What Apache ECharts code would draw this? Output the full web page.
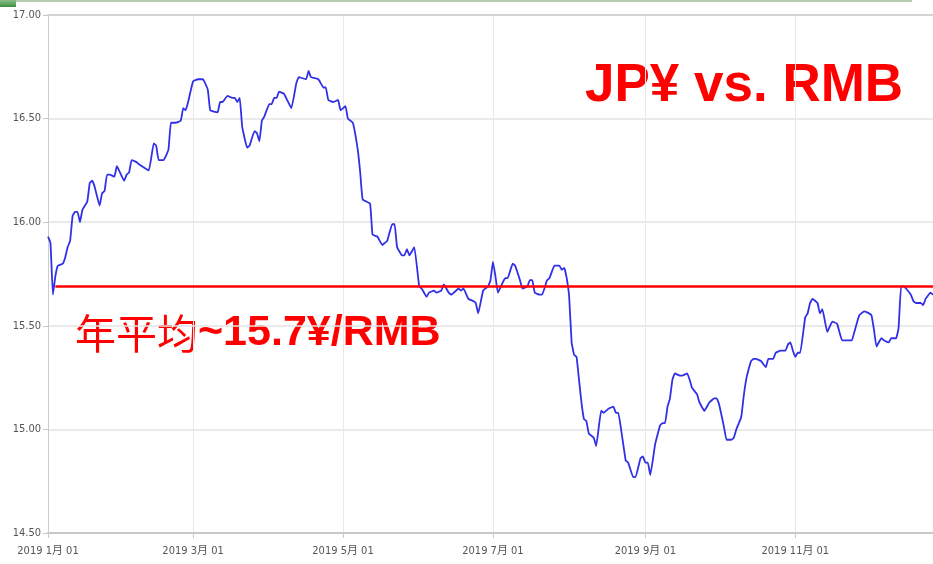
<!DOCTYPE html>
<html>
<head>
<meta charset="utf-8">
<script src="https://cdn.jsdelivr.net/npm/echarts@6/dist/echarts.min.js"></script>
<style>
html,body{margin:0;padding:0;background:#fff;}
#chart{width:933px;height:564px;}
</style>
</head>
<body>
<div id="chart"></div>
<script>
// 日期偏移（自2019-01-01起的天数）
var days = [0,1,2,3,4,6,7,8,9,10,11,12,13,14,15,16,17,18,19,21,22,23,24,25,27,28,31,32,33,34,36,37,41,43,44,45,47,49,50,52,54,55,56,57,59,61,63,65,66,69,70,71,73,75,76,77,78,79,81,82,84,85,86,87,88,90,91,92,93,94,96,99,101,102,105,106,107,110,112,113,114,116,118,119,121,122,124,126,127,128,131,132,134,136,137,138,140,141,142,144,145,146,147,149,151,152,154,155,157,158,160,161,163,164,166,167,168,169,171,173,174,175,177,179,180,181,182,183,185,186,187,189,190,192,193,195,196,197,198,200,201,203,204,206,208,209,210,211,212,213,214,215,216,217,218,219,220,222,223,225,226,228,230,231,232,233,235,236,238,239,241,242,243,244,245,247,249,250,251,252,253,254,255,257,258,260,261,262,264,265,267,269,271,272,273,275,276,278,279,280,282,283,284,285,286,287,288,290,292,293,295,296,298,300,301,302,303,304,305,306,308,309,310,311,313,314,315,317,319,321,323,325,327,328,330,332,334,335,336,337,339,340,342,343,345,346,347,348,349,351,352,353,355,356,357,359,360];
// 日元兑人民币（100日元）
var rates = [15.93,15.90,15.65,15.74,15.79,15.80,15.83,15.88,15.91,16.03,16.05,16.05,16.00,16.06,16.08,16.10,16.19,16.20,16.17,16.08,16.14,16.15,16.23,16.23,16.22,16.27,16.20,16.23,16.24,16.30,16.29,16.28,16.25,16.38,16.37,16.30,16.30,16.35,16.48,16.48,16.49,16.55,16.54,16.58,16.68,16.69,16.69,16.64,16.54,16.53,16.58,16.58,16.61,16.60,16.60,16.58,16.60,16.46,16.36,16.37,16.44,16.43,16.39,16.49,16.51,16.57,16.57,16.60,16.60,16.63,16.62,16.55,16.67,16.70,16.69,16.73,16.70,16.69,16.65,16.65,16.59,16.58,16.59,16.54,16.56,16.50,16.48,16.35,16.24,16.11,16.09,15.94,15.93,15.89,15.90,15.91,15.99,15.99,15.88,15.84,15.84,15.87,15.84,15.88,15.69,15.68,15.64,15.66,15.67,15.66,15.67,15.70,15.66,15.65,15.67,15.68,15.67,15.68,15.63,15.62,15.61,15.56,15.67,15.69,15.72,15.81,15.74,15.66,15.71,15.73,15.73,15.80,15.79,15.72,15.68,15.69,15.72,15.72,15.66,15.65,15.65,15.72,15.73,15.79,15.79,15.77,15.78,15.73,15.64,15.42,15.36,15.35,15.24,15.13,15.05,15.04,14.98,14.96,14.92,15.09,15.08,15.10,15.11,15.08,15.08,15.01,14.85,14.84,14.77,14.77,14.86,14.87,14.84,14.84,14.78,14.93,15.02,15.03,15.03,15.11,15.15,15.24,15.27,15.26,15.26,15.27,15.24,15.20,15.17,15.13,15.09,15.13,15.15,15.15,15.12,15.01,14.95,14.95,14.96,15.00,15.06,15.16,15.24,15.29,15.33,15.34,15.34,15.33,15.30,15.34,15.34,15.37,15.38,15.38,15.41,15.42,15.38,15.35,15.37,15.37,15.54,15.56,15.61,15.63,15.61,15.56,15.58,15.47,15.52,15.51,15.43,15.43,15.43,15.47,15.55,15.57,15.56,15.55,15.48,15.40,15.44,15.43,15.42,15.44,15.44,15.49,15.69,15.69,15.68,15.65,15.62,15.61,15.61,15.60,15.63,15.66,15.65];
// 年平均
var avgRate = 15.69;
var avgStart = 3, avgEnd = 360;
// 刻度（天数）及标签
var tickDays = [0,59,120,181,243,304];
var tickLabels = ['2019 1月 01','2019 3月 01','2019 5月 01','2019 7月 01','2019 9月 01','2019 11月 01'];

var seriesData = [];
for(var i=0;i<days.length;i++){
	seriesData.push([days[i], rates[i]]);
}

var labelFont = '"Liberation Sans Narrow", "DejaVu Sans Condensed", "Noto Sans CJK SC", sans-serif';

var chart = echarts.init(document.getElementById('chart'));
var option = {
	animation: false,
	backgroundColor: '#fff',
	grid: { left: 48, right: 0, top: 15, bottom: 31 },
	xAxis: [{
		type: 'value',
		min: 0,
		max: 360,
		axisLine: { show: true, lineStyle: { color: '#c8c8c8', width: 2 } },
		axisTick: { show: true, length: 5, lineStyle: { color: '#c8c8c8' }, customValues: tickDays },
		splitLine: { show: true, lineStyle: { color: '#e8e8e8', width: 1 } },
		axisLabel: {
			customValues: tickDays,
			color: '#555',
			fontSize: 11,
			fontFamily: labelFont,
			margin: 13,
			formatter: function(v){
				var k = tickDays.indexOf(v);
				return k >= 0 ? tickLabels[k] : '';
			}
		}
	}, {
		type: 'value',
		position: 'top',
		min: 0,
		max: 360,
		axisLine: { show: true, lineStyle: { color: '#d4d4d4', width: 2 } },
		axisTick: { show: false },
		axisLabel: { show: false },
		splitLine: { show: false }
	}],
	yAxis: {
		type: 'value',
		min: 14.5,
		max: 17,
		interval: 0.5,
		axisLine: { show: true, lineStyle: { color: '#cccccc', width: 1 } },
		axisTick: { show: true, length: 5, lineStyle: { color: '#c8c8c8' } },
		splitLine: { show: true, lineStyle: { color: '#e3e3e3', width: 1.5 } },
		axisLabel: {
			color: '#555',
			fontSize: 11,
			fontFamily: labelFont,
			margin: 7,
			formatter: function(v){ return v.toFixed(2); }
		}
	},
	series: [{
		type: 'line',
		data: seriesData,
		showSymbol: false,
		smooth: 0.1,
		lineStyle: { color: '#3030e8', width: 1.8 },
		silent: true,
		markLine: {
			silent: true,
			symbol: ['none','none'],
			label: { show: false },
			lineStyle: { color: '#ff0000', width: 2.5, type: 'solid' },
			data: [[
				{ coord: [avgStart, avgRate] },
				{ coord: [avgEnd, avgRate] }
			]]
		}
	}],
	graphic: [
		{ type: 'rect', left: 0, top: 0, shape: { width: 16, height: 7 },
		  style: { fill: new echarts.graphic.LinearGradient(0,0,0,1,[{offset:0,color:'#8cc08a'},{offset:1,color:'#3f8f3f'}]) } },
		{ type: 'rect', left: 16, top: 0, shape: { width: 896, height: 2 }, style: { fill: '#b7cbb0' } },
		{ type: 'text', left: 585, top: 60,
		  style: { text: 'JP¥ vs. RMB', fill: '#ff0000', font: 'bold 53px "Liberation Sans", Arial, sans-serif' } },
		{ type: 'text', left: 75, top: 312,
		  style: {
			text: '{a|年平均}{b|~15.7¥/RMB}',
			rich: {
				a: { fill: '#ff0000', fontSize: 41, fontFamily: '"Noto Sans CJK SC", sans-serif', fontWeight: 'normal' },
				b: { fill: '#ff0000', fontSize: 43, fontFamily: '"Liberation Sans", Arial, sans-serif', fontWeight: 'bold' }
			}
		  } }
	]
};
chart.setOption(option);
</script>
</body>
</html>
